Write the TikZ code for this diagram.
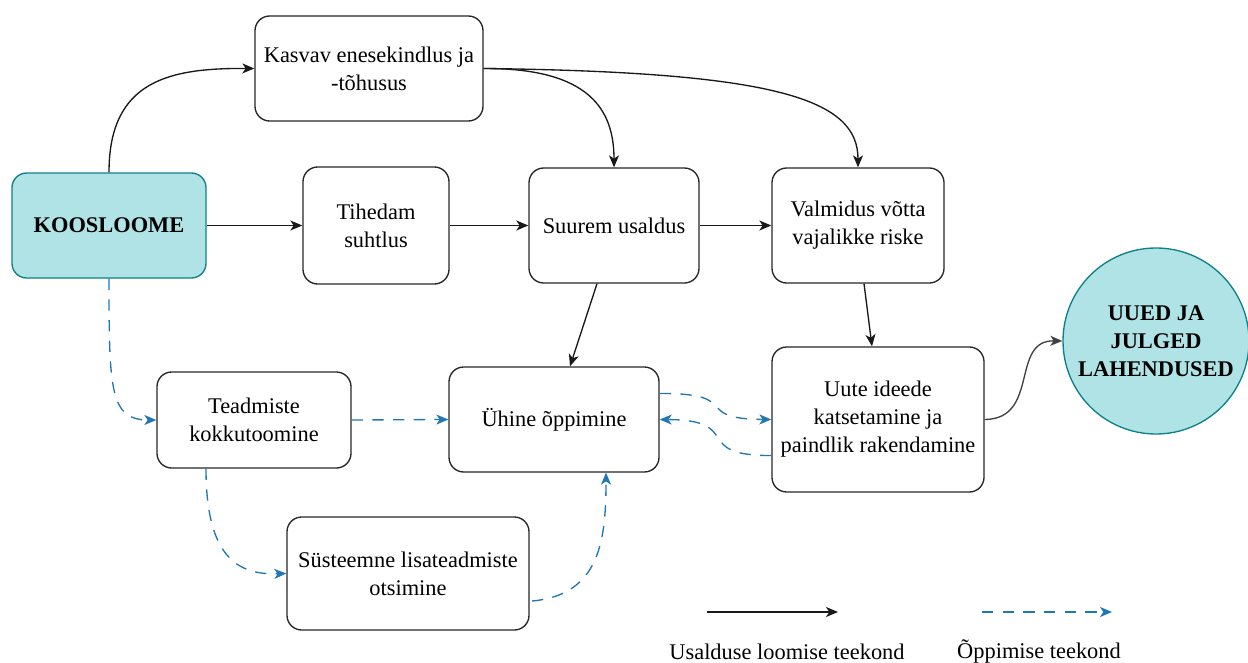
\documentclass[tikz,border=0pt]{standalone}
\usepackage{fontspec}
\setmainfont{Liberation Serif}
\usetikzlibrary{arrows.meta}
\definecolor{tealfill}{RGB}{176,227,230}
\definecolor{tealline}{RGB}{14,128,136}
\definecolor{lblue}{RGB}{31,119,180}
\tikzset{
  box/.style={draw=black!85, line width=1pt, rounded corners=11pt, align=center, font=\fontsize{16.8}{21}\selectfont, inner sep=1pt},
  tealbox/.style={box, draw=tealline, fill=tealfill, font=\fontsize{16.8}{21}\selectfont\bfseries},
  tarr/.style={line width=1pt, black!90, -{Stealth[length=9pt,width=7.5pt,inset=2.5pt]}},
  larr/.style={line width=1pt, lblue, dash pattern=on 8.5pt off 7pt, -{Stealth[length=9pt,width=7.5pt,inset=2.5pt]}},
  lbl/.style={font=\fontsize{16.8}{21}\selectfont}
}
\begin{document}
\begin{tikzpicture}[x=0.75pt,y=-0.75pt]
\useasboundingbox (0,0) rectangle (1248,663);
% nodes
\node[tealbox, minimum width=194*0.75pt, minimum height=105*0.75pt] (koos) at (109,225.5) {KOOSLOOME};
\node[box, minimum width=228*0.75pt, minimum height=105*0.75pt] (kasv) at (369,68.5) {Kasvav enesekindlus ja\\-tõhusus};
\node[box, minimum width=146*0.75pt, minimum height=117*0.75pt] (tih) at (376,225.5) {Tihedam\\suhtlus};
\node[box, minimum width=170*0.75pt, minimum height=115*0.75pt] (suur) at (614,225.5) {Suurem usaldus};
\node[box, minimum width=172*0.75pt, minimum height=115*0.75pt] (valm) at (858,225.5) {Valmidus võtta\\vajalikke riske};
\node[box, minimum width=212*0.75pt, minimum height=145*0.75pt] (uute) at (878,419.5) {Uute ideede\\katsetamine ja\\paindlik rakendamine};
\node[box, minimum width=210*0.75pt, minimum height=105*0.75pt] (yhine) at (554,419.5) {Ühine õppimine};
\node[box, minimum width=194*0.75pt, minimum height=96*0.75pt] (tead) at (254,420) {Teadmiste\\kokkutoomine};
\node[box, minimum width=242*0.75pt, minimum height=113*0.75pt] (syst) at (408,573.5) {Süsteemne lisateadmiste\\otsimine};
\node[circle, draw=tealline, fill=tealfill, line width=1pt, minimum size=186*0.75pt, inner sep=0pt, align=center, font=\fontsize{16.8}{21}\selectfont\bfseries] (uued) at (1156,341) {UUED JA\\JULGED\\LAHENDUSED};
% trust path
\draw[tarr] (koos.north) .. controls (109,80) and (170,68) .. (kasv.west);
\draw[tarr] (koos.east) -- (tih.west);
\draw[tarr] (tih.east) -- (suur.west);
\draw[tarr] (suur.east) -- (valm.west);
\draw[tarr] (kasv.east) .. controls (590,68) and (614,110) .. (suur.north);
\draw[tarr] (kasv.east) .. controls (780,72) and (858,100) .. (valm.north);
\draw[tarr] ([xshift=-17*0.75pt]suur.south) -- ([xshift=16*0.75pt]yhine.north);
\draw[tarr] ([xshift=6*0.75pt]valm.south) -- ([xshift=-6*0.75pt]uute.north);
\draw[tarr, black!75] (uute.east) .. controls (1040,419) and (1010,340) .. (uued.west);
% learning path
\draw[larr] (koos.south) .. controls (109,390) and (110,420) .. (tead.west);
\draw[larr] (tead.east) -- (yhine.west);
\draw[larr] ([xshift=-48*0.75pt]tead.south) .. controls (206,560) and (240,575) .. (syst.west);
\coordinate (s1) at (532,601);
\draw[larr] (s1) .. controls (600,595) and (606,540) .. ([xshift=52*0.75pt]yhine.south);
\draw[larr] ([yshift=26*0.75pt]yhine.east) .. controls (745,393) and (690,419) .. (uute.west);
\draw[larr] ([yshift=-36*0.75pt]uute.west) .. controls (690,456) and (745,420) .. (yhine.east);
% legend
\coordinate (la) at (707,612);
\coordinate (lb) at (838,612);
\draw[tarr] (la) -- (lb);
\node[lbl] (lt1) at (787,652) {Usalduse loomise teekond};
\coordinate (lc) at (982,612);
\coordinate (ld) at (1112,612);
\draw[larr] (lc) -- (ld);
\node[lbl] (lt2) at (1039,652) {Õppimise teekond};
\end{tikzpicture}
\end{document}
